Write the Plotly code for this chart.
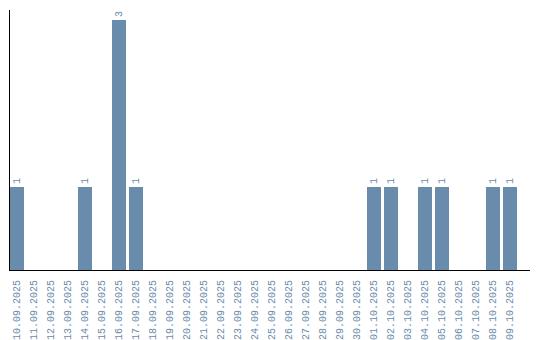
import plotly.graph_objects as go

dates = ["10.09.2025","11.09.2025","12.09.2025","13.09.2025","14.09.2025","15.09.2025",
         "16.09.2025","17.09.2025","18.09.2025","19.09.2025","20.09.2025","21.09.2025",
         "22.09.2025","23.09.2025","24.09.2025","25.09.2025","26.09.2025","27.09.2025",
         "28.09.2025","29.09.2025","30.09.2025","01.10.2025","02.10.2025","03.10.2025",
         "04.10.2025","05.10.2025","06.10.2025","07.10.2025","08.10.2025","09.10.2025"]
counts = [1,0,0,0,1,0,3,1,0,0,0,0,0,0,0,0,0,0,0,0,0,1,1,0,1,1,0,0,1,1]

bar_color = "#6a8cac"
text_color = "#6a8aac"

xs = [i + 0.41 for i in range(len(dates))]
labels = [str(c) if c > 0 else "" for c in counts]

fig = go.Figure(go.Bar(
    x=xs, y=counts, width=0.8235,
    marker=dict(color=bar_color, line=dict(width=0)),
    text=labels, textposition="outside", textangle=-90,
    textfont=dict(family="Liberation Mono", size=10, color=text_color),
    cliponaxis=False,
))

fig.update_layout(
    width=540, height=340,
    margin=dict(l=10, r=10, t=10, b=70),
    paper_bgcolor="white", plot_bgcolor="white",
    showlegend=False,
    bargap=0,
    uniformtext=dict(mode=False),
)
fig.update_xaxes(
    range=[0, 30.59], tickmode="array", tickvals=xs, ticktext=dates,
    tickangle=-90, tickfont=dict(family="Liberation Mono", size=10, color=text_color),
    showgrid=False, zeroline=False, showline=True, linecolor="black", linewidth=1,
    ticks="", ticklabelstandoff=5, automargin=False,
)
fig.update_yaxes(
    range=[0, 3.12], showticklabels=False, showgrid=False, zeroline=False,
    showline=True, linecolor="black", linewidth=1, ticks="", automargin=False,
)

fig.write_html("out.html")
